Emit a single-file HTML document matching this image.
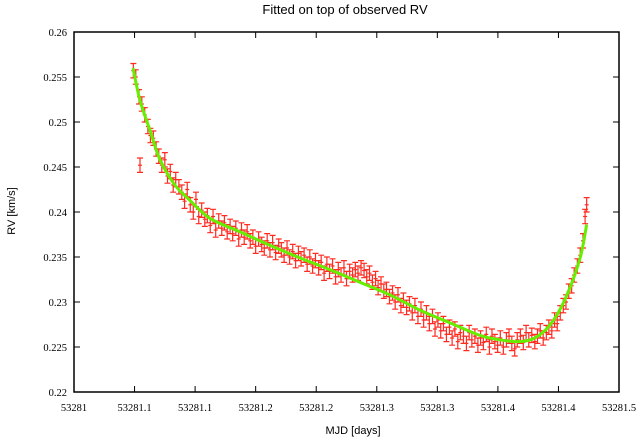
<!DOCTYPE html>
<html><head><meta charset="utf-8"><style>
body{margin:0;background:#fff}
svg{display:block}
.tk{font-family:"Liberation Serif",serif;font-size:10.5px;fill:#000}
.lb{font-family:"Liberation Sans",sans-serif;font-size:11px;fill:#000}
</style></head><body>
<svg id="chart" width="637" height="439" viewBox="0 0 637 439" xmlns="http://www.w3.org/2000/svg">
<text x="345" y="14" text-anchor="middle" style="font-family:'Liberation Sans',sans-serif;font-size:13px">Fitted on top of observed RV</text>
<text class="lb" transform="translate(15,211) rotate(-90)" text-anchor="middle">RV [km/s]</text>
<text class="lb" x="353" y="434" text-anchor="middle">MJD [days]</text>
<g id="ticks"></g>
<g id="obs"></g>
<g id="fit"></g>
<rect x="74" y="32" width="545" height="360" fill="none" stroke="#000" stroke-width="1.5"/>
</svg>
<script>
const xTickValues=[0,0.05,0.1,0.15,0.2,0.25,0.3,0.35,0.4,0.45];
const xTickLabels=["53281","53281.1","53281.1","53281.2","53281.2","53281.3","53281.3","53281.4","53281.4","53281.5"];
const yTickValues=[0.22,0.225,0.23,0.235,0.24,0.245,0.25,0.255,0.26];
const yTickLabels=["0.22","0.225","0.23","0.235","0.24","0.245","0.25","0.255","0.26"];
const fitDays=[0.0487,0.0545,0.0627,0.0710,0.0833,0.0957,0.1122,0.1370,0.1617,0.1865,0.2112,0.2360,0.2607,0.2855,0.3102,0.3350,0.3515,0.3680,0.3804,0.3927,0.4051,0.4175,0.4233];
const fitRV=[0.2560,0.2524,0.2491,0.2458,0.2430,0.2413,0.2393,0.2378,0.2363,0.2349,0.2336,0.2322,0.2308,0.2291,0.2277,0.2263,0.2258,0.2256,0.2260,0.2274,0.2302,0.2347,0.2386];
const obsDays=[0.0490,0.0510,0.0537,0.0545,0.0560,0.0584,0.0610,0.0631,0.0655,0.0678,0.0700,0.0725,0.0750,0.0772,0.0795,0.0819,0.0840,0.0866,0.0890,0.0913,0.0935,0.0960,0.0985,0.1007,0.1030,0.1054,0.1080,0.1101,0.1125,0.1148,0.1170,0.1195,0.1220,0.1242,0.1265,0.1289,0.1310,0.1336,0.1360,0.1383,0.1405,0.1430,0.1455,0.1477,0.1500,0.1524,0.1550,0.1571,0.1595,0.1618,0.1640,0.1665,0.1690,0.1712,0.1735,0.1759,0.1780,0.1806,0.1830,0.1853,0.1875,0.1900,0.1925,0.1947,0.1970,0.1994,0.2020,0.2041,0.2065,0.2088,0.2110,0.2135,0.2160,0.2182,0.2205,0.2229,0.2250,0.2276,0.2300,0.2323,0.2345,0.2370,0.2395,0.2417,0.2440,0.2464,0.2490,0.2511,0.2535,0.2558,0.2580,0.2605,0.2630,0.2652,0.2675,0.2699,0.2720,0.2746,0.2770,0.2793,0.2815,0.2840,0.2865,0.2887,0.2910,0.2934,0.2960,0.2981,0.3005,0.3028,0.3050,0.3075,0.3100,0.3122,0.3145,0.3169,0.3190,0.3216,0.3240,0.3263,0.3285,0.3310,0.3335,0.3357,0.3380,0.3404,0.3430,0.3451,0.3475,0.3498,0.3520,0.3545,0.3570,0.3592,0.3615,0.3639,0.3660,0.3686,0.3710,0.3733,0.3755,0.3780,0.3805,0.3827,0.3850,0.3874,0.3900,0.3921,0.3945,0.3968,0.3990,0.4015,0.4040,0.4062,0.4085,0.4109,0.4130,0.4156,0.4180,0.4203,0.4220,0.4233];
const obsRV=[0.2557,0.2550,0.2528,0.2452,0.2520,0.2508,0.2495,0.2485,0.2482,0.2470,0.2462,0.2452,0.2458,0.2440,0.2445,0.2430,0.2436,0.2428,0.2422,0.2412,0.2425,0.2408,0.2400,0.2414,0.2395,0.2402,0.2392,0.2396,0.2385,0.2395,0.2380,0.2390,0.2382,0.2388,0.2378,0.2384,0.2376,0.2382,0.2370,0.2380,0.2372,0.2378,0.2368,0.2372,0.2362,0.2370,0.2364,0.2360,0.2368,0.2358,0.2366,0.2355,0.2362,0.2358,0.2352,0.2360,0.2350,0.2356,0.2346,0.2354,0.2348,0.2352,0.2342,0.2350,0.2340,0.2346,0.2338,0.2344,0.2332,0.2342,0.2334,0.2340,0.2328,0.2336,0.2330,0.2338,0.2326,0.2334,0.2330,0.2336,0.2332,0.2338,0.2335,0.2328,0.2332,0.2322,0.2326,0.2316,0.2320,0.2312,0.2314,0.2306,0.2310,0.2300,0.2308,0.2296,0.2302,0.2294,0.2298,0.2288,0.2296,0.2284,0.2292,0.2280,0.2288,0.2276,0.2284,0.2270,0.2280,0.2268,0.2276,0.2264,0.2272,0.2260,0.2270,0.2256,0.2266,0.2262,0.2254,0.2266,0.2258,0.2262,0.2252,0.2260,0.2255,0.2264,0.2250,0.2262,0.2256,0.2252,0.2260,0.2250,0.2258,0.2262,0.2254,0.2248,0.2258,0.2262,0.2255,0.2266,0.2258,0.2263,0.2256,0.2262,0.2268,0.2260,0.2266,0.2272,0.2268,0.2280,0.2276,0.2288,0.2296,0.2300,0.2312,0.2318,0.2330,0.2340,0.2352,0.2368,0.2395,0.2408];
const obsErr=0.0008;
const X0=74,X1=619,Y0=392,Y1=32;
const xs=d=>X0+(d-0)/0.45*(X1-X0);
const ys=v=>Y0-(v-0.22)/0.04*(Y0-Y1);
const NS="http://www.w3.org/2000/svg";
function mk(t,a){const e=document.createElementNS(NS,t);for(const k in a)e.setAttribute(k,a[k]);return e;}
const tg=document.getElementById('ticks');
xTickValues.forEach((v,i)=>{const x=xs(v);
 const t=mk('path',{d:`M${x},${Y0}v-6M${x},${Y1}v6`,stroke:'#000','stroke-width':1});
 
 
 tg.appendChild(t);
 const l=mk('text',{x:x,y:411,'text-anchor':'middle',class:'tk'});l.textContent=xTickLabels[i];
 
 
 tg.appendChild(l);});
yTickValues.forEach((v,i)=>{const y=ys(v);
 const t=mk('path',{d:`M${X0},${y}h6M${X1},${y}h-6`,stroke:'#000','stroke-width':1});
 
 
 tg.appendChild(t);
 const l=mk('text',{x:67,y:y+4,'text-anchor':'end',class:'tk'});l.textContent=yTickLabels[i];
 
 
 tg.appendChild(l);});
const og=document.getElementById('obs');
obsDays.forEach((d,i)=>{const x=xs(d),y=ys(obsRV[i]),e=ys(obsRV[i]-obsErr)-y;
 const p=mk('path',{d:`M${x},${y-e}V${y+e}M${x-3},${y-e}h6M${x-3},${y+e}h6M${x-2},${y}h4`,stroke:'#ff2a20','stroke-width':1.2,fill:'none'});
 
 
 og.appendChild(p);});
const fg=document.getElementById('fit');
const pts=fitDays.map((d,i)=>[xs(d),ys(fitRV[i])]);
let dstr=`M${pts[0][0]},${pts[0][1]}`;
for(let i=0;i<pts.length-1;i++){const p0=pts[Math.max(0,i-1)],p1=pts[i],p2=pts[i+1],p3=pts[Math.min(pts.length-1,i+2)];
 dstr+=`C${p1[0]+(p2[0]-p0[0])/6},${p1[1]+(p2[1]-p0[1])/6} ${p2[0]-(p3[0]-p1[0])/6},${p2[1]-(p3[1]-p1[1])/6} ${p2[0]},${p2[1]}`;}
const fl=mk('path',{d:dstr,stroke:'#66ee00','stroke-width':3,fill:'none'});


fg.appendChild(fl);
</script>
</body></html>
